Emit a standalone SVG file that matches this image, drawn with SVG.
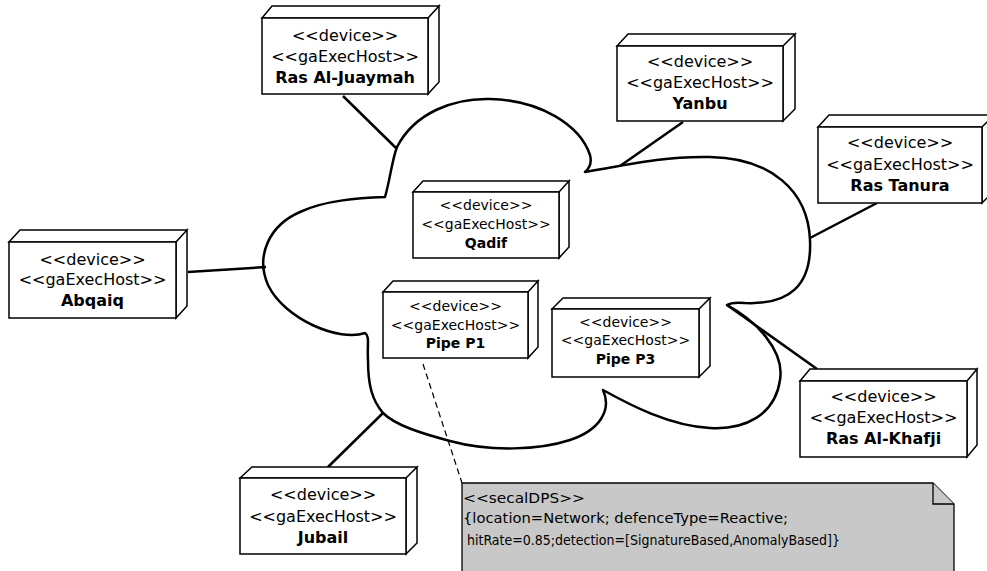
<svg xmlns="http://www.w3.org/2000/svg" width="987" height="571" viewBox="0 0 987 571">
  <style>
    .box { fill: #ffffff; stroke: #000000; stroke-width: 1.5; stroke-linejoin: miter; }
    .st { font-family: "DejaVu Sans", "Liberation Sans", sans-serif; text-anchor: middle; fill: #000000; }
    .big { font-size: 16px; }
    .small { font-size: 14px; }
    .nm { font-weight: bold; }
    .link { stroke: #000000; stroke-width: 2.5; fill: none; stroke-linecap: butt; }
    .dash { stroke: #000000; stroke-width: 1.2; fill: none; stroke-dasharray: 6 4; }
    .cloud { fill: #ffffff; stroke: #000000; stroke-width: 2.5; stroke-linejoin: round; }
    .note { fill: #c8c8c8; stroke: #000000; stroke-width: 1.3; }
    .nt { font-family: "DejaVu Sans", "Liberation Sans", sans-serif; font-size: 14.5px; fill: #000000; }
  </style>

  <rect x="0" y="0" width="987" height="571" fill="#ffffff"/>

  <!-- network cloud -->
  <g id="network">
    <path class="cloud" d="M 385,197
      C 390,180 392,160 397,147
      C 415,112 455,98 490,99
      C 540,100 580,125 590,155
      C 592,163 590,168 585,172
      C 640,162 670,156 710,157
      C 770,158 808,190 810,240
      C 812,285 790,305 745,303
      C 735,302 730,303 727,305
      C 755,320 785,350 780,380
      C 775,415 745,430 710,428
      C 670,426 630,405 603,390
      C 612,410 600,430 570,440
      C 540,450 490,452 450,441
      C 420,433 395,425 383,413
      C 372,400 368,385 368,360
      C 367,345 370,336 365,333
      C 340,342 285,320 268,285
      C 255,255 270,225 300,212
      C 325,200 360,198 385,197 Z"/>
  </g>

  <!-- connectors -->
  <g id="connectors">
    <line class="link" x1="343" y1="96" x2="396" y2="148"/>
    <line class="link" x1="683" y1="122" x2="620" y2="166"/>
    <line class="link" x1="877" y1="203" x2="810" y2="238"/>
    <line class="link" x1="188" y1="272" x2="266" y2="267"/>
    <line class="link" x1="727" y1="305" x2="817" y2="369"/>
    <line class="link" x1="328" y1="467" x2="383" y2="413"/>
    <line class="dash" x1="423" y1="364" x2="462" y2="483"/>
  </g>

  <!-- Ras Al-Juaymah -->
  <g id="ras-al-juaymah">
    <path class="box" d="M262,18 L272,6 L439,6 L428,18 Z M428,18 L439,6 L439,82 L428,94 Z"/>
    <rect class="box" x="262" y="18" width="166" height="76"/>
    <text class="st big" x="345" y="41">&lt;&lt;device&gt;&gt;</text>
    <text class="st big" x="345" y="62">&lt;&lt;gaExecHost&gt;&gt;</text>
    <text class="st big nm" x="345" y="83">Ras Al-Juaymah</text>
  </g>

  <!-- Yanbu -->
  <g id="yanbu">
    <path class="box" d="M617,46 L628,34 L795,34 L783,46 Z M783,46 L795,34 L795,109 L783,121 Z"/>
    <rect class="box" x="617" y="46" width="166" height="75"/>
    <text class="st big" x="700" y="67">&lt;&lt;device&gt;&gt;</text>
    <text class="st big" x="700" y="88">&lt;&lt;gaExecHost&gt;&gt;</text>
    <text class="st big nm" x="700" y="109">Yanbu</text>
  </g>

  <!-- Ras Tanura -->
  <g id="ras-tanura">
    <path class="box" d="M818,127 L829,115 L994,115 L982,127 Z M982,127 L994,115 L994,191 L982,203 Z"/>
    <rect class="box" x="818" y="127" width="164" height="76"/>
    <text class="st big" x="900" y="148">&lt;&lt;device&gt;&gt;</text>
    <text class="st big" x="900" y="170">&lt;&lt;gaExecHost&gt;&gt;</text>
    <text class="st big nm" x="900" y="191">Ras Tanura</text>
  </g>

  <!-- Abqaiq -->
  <g id="abqaiq">
    <path class="box" d="M9,242 L20,230 L187,230 L176,242 Z M176,242 L187,230 L187,306 L176,318 Z"/>
    <rect class="box" x="9" y="242" width="167" height="76"/>
    <text class="st big" x="92.5" y="265">&lt;&lt;device&gt;&gt;</text>
    <text class="st big" x="92.5" y="285">&lt;&lt;gaExecHost&gt;&gt;</text>
    <text class="st big nm" x="92.5" y="306">Abqaiq</text>
  </g>

  <!-- Qadif -->
  <g id="qadif">
    <path class="box" d="M413,192 L423,181 L569,181 L559,192 Z M559,192 L569,181 L569,247 L559,258 Z"/>
    <rect class="box" x="413" y="192" width="146" height="66"/>
    <text class="st small" x="486" y="210">&lt;&lt;device&gt;&gt;</text>
    <text class="st small" x="486" y="229">&lt;&lt;gaExecHost&gt;&gt;</text>
    <text class="st small nm" x="486" y="248">Qadif</text>
  </g>

  <!-- Pipe P1 -->
  <g id="pipe-p1">
    <path class="box" d="M383,292 L393,281 L538,281 L528,292 Z M528,292 L538,281 L538,347 L528,358 Z"/>
    <rect class="box" x="383" y="292" width="145" height="66"/>
    <text class="st small" x="455.5" y="311">&lt;&lt;device&gt;&gt;</text>
    <text class="st small" x="455.5" y="330">&lt;&lt;gaExecHost&gt;&gt;</text>
    <text class="st small nm" x="455.5" y="348">Pipe P1</text>
  </g>

  <!-- Pipe P3 -->
  <g id="pipe-p3">
    <path class="box" d="M552,309 L563,298 L710,298 L699,309 Z M699,309 L710,298 L710,366 L699,377 Z"/>
    <rect class="box" x="552" y="309" width="147" height="68"/>
    <text class="st small" x="625.5" y="327">&lt;&lt;device&gt;&gt;</text>
    <text class="st small" x="625.5" y="345">&lt;&lt;gaExecHost&gt;&gt;</text>
    <text class="st small nm" x="625.5" y="364">Pipe P3</text>
  </g>

  <!-- Ras Al-Khafji -->
  <g id="ras-al-khafji">
    <path class="box" d="M800,381 L810,369 L977,369 L967,381 Z M967,381 L977,369 L977,445 L967,457 Z"/>
    <rect class="box" x="800" y="381" width="167" height="76"/>
    <text class="st big" x="883.5" y="402">&lt;&lt;device&gt;&gt;</text>
    <text class="st big" x="883.5" y="423">&lt;&lt;gaExecHost&gt;&gt;</text>
    <text class="st big nm" x="883.5" y="444">Ras Al-Khafji</text>
  </g>

  <!-- Jubail -->
  <g id="jubail">
    <path class="box" d="M240,478 L252,467 L417,467 L406,478 Z M406,478 L417,467 L417,543 L406,554 Z"/>
    <rect class="box" x="240" y="478" width="166" height="76"/>
    <text class="st big" x="323" y="500">&lt;&lt;device&gt;&gt;</text>
    <text class="st big" x="323" y="522">&lt;&lt;gaExecHost&gt;&gt;</text>
    <text class="st big nm" x="323" y="543">Jubail</text>
  </g>

  <!-- IDPS annotation note -->
  <g id="idps-note">
    <path class="note" d="M462,483 L933,483 L954,504 L954,600 L462,600 Z"/>
    <path class="note" d="M933,483 L933,504 L954,504" fill="none"/>
    <text class="nt" x="463" y="503" textLength="122" lengthAdjust="spacingAndGlyphs">&lt;&lt;secalDPS&gt;&gt;</text>
    <text class="nt" x="463" y="523" textLength="325" lengthAdjust="spacingAndGlyphs">{location=Network; defenceType=Reactive;</text>
    <text class="nt" x="463" y="545" textLength="377" lengthAdjust="spacingAndGlyphs" xml:space="preserve"> hitRate=0.85;detection=[SignatureBased,AnomalyBased]}</text>
  </g>
</svg>
